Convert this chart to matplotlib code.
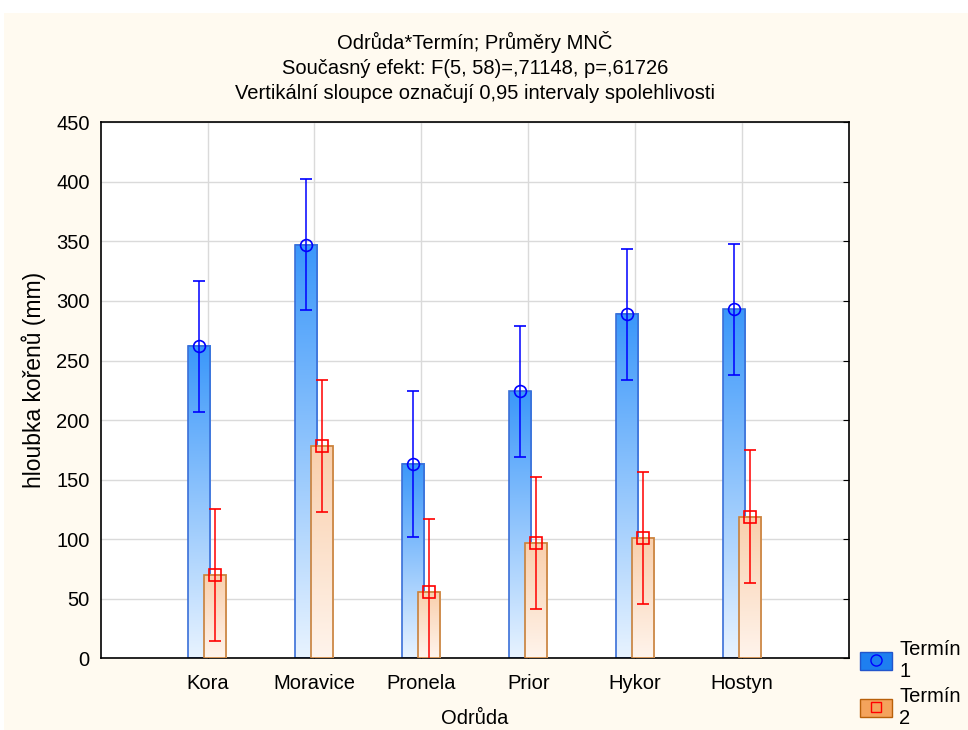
import numpy as np
import matplotlib.pyplot as plt
from matplotlib.colors import LinearSegmentedColormap
from matplotlib.patches import Rectangle, Patch
from matplotlib.lines import Line2D

plt.rcParams['font.family'] = ['Liberation Sans', 'DejaVu Sans']

# Data
odrudy = ['Kora', 'Moravice', 'Pronela', 'Prior', 'Hykor', 'Hostyn']
termin1 = [262, 347, 163, 224, 289, 293]
termin1_ci = [55, 55, 61, 55, 55, 55]
termin2 = [70, 178, 56, 97, 101, 119]
termin2_ci = [55.5, 55.5, 61, 55.5, 55.5, 55.5]

fw, fh = 9.68, 7.30
fs = 14.5
fig = plt.figure(figsize=(fw, fh), dpi=100, facecolor='white')
# cream panel under the white strip at the top
fig.patches.append(Rectangle((0.004, 0), 0.996, 1 - 13 / 730, transform=fig.transFigure,
                             facecolor='#FFFAF0', edgecolor='none', zorder=-10))

ax = fig.add_axes([100.7 / 968, 1 - 658.3 / 730, (849 - 100.7) / 968, (658.3 - 122.3) / 730])
ax.set_facecolor('white')

blue_cmap = LinearSegmentedColormap.from_list('b', ['#E8F3FF', '#3A97FA'])
orange_cmap = LinearSegmentedColormap.from_list('o', ['#FFF4EC', '#F9CFAC'])
grad = np.linspace(0, 1, 256).reshape(-1, 1)

w = 0.206
offs = [-0.078, 0.072]
series = [(termin1, termin1_ci, blue_cmap, '#3A6FD8', 'blue', 'o'),
          (termin2, termin2_ci, orange_cmap, '#C8803A', 'red', 's')]

for k, (vals, ci, cmap, edge, ecol, mk) in enumerate(series):
    for i, v in enumerate(vals):
        xc = i + 1 + offs[k]
        ax.imshow(grad, extent=[xc - w / 2, xc + w / 2, 0, v], origin='lower',
                  aspect='auto', cmap=cmap, zorder=2 + k * 2)
        ax.add_patch(Rectangle((xc - w / 2, 0), w, v, fill=False, edgecolor=edge,
                               linewidth=1.2, zorder=2.5 + k * 2))
    xs = np.arange(1, len(vals) + 1) + offs[k]
    ax.errorbar(xs, vals, yerr=ci, fmt=mk, color=ecol, mfc='none', mec=ecol,
                ms=8.5 if mk == 'o' else 8, mew=1.2, elinewidth=1.1, capsize=4.5,
                capthick=1.1, zorder=3 + k * 2)

ax.set_xlim(0, 7)
ax.set_ylim(0, 450)
ax.set_xticks(range(1, 7))
ax.set_xticklabels(odrudy, fontsize=fs)
ax.set_yticks(range(0, 451, 50))
ax.tick_params(axis='y', labelsize=fs, direction='in', left=False, right=True,
               length=4, pad=8)
ax.tick_params(axis='x', direction='in', length=3, pad=11)
ax.grid(True, color='#DADADA', linewidth=1)
ax.set_axisbelow(True)
for s in ax.spines.values():
    s.set_linewidth(1.2)

ax.set_xlabel('Odrůda', fontsize=fs, labelpad=12)
ax.set_ylabel('hloubka kořenů (mm)', fontsize=16.5)
ax.yaxis.set_label_coords(-0.073, 0.519)
ax.set_title('Odrůda*Termín; Průměry MNČ\nSoučasný efekt: F(5, 58)=,71148, p=,61726\n'
             'Vertikální sloupce označují 0,95 intervaly spolehlivosti',
             fontsize=fs, linespacing=1.38, pad=17)

h1 = (Patch(facecolor='#1E7FF0', edgecolor='#2255CC'),
      Line2D([], [], marker='o', color='blue', mfc='none', ls='none', ms=8))
h2 = (Patch(facecolor='#F4A35C', edgecolor='#B8600A'),
      Line2D([], [], marker='s', color='red', mfc='none', ls='none', ms=7.5))
fig.legend([h1, h2], ['Termín\n1', 'Termín\n2'], loc='lower left',
           bbox_to_anchor=(852 / 968, -0.008), frameon=False, fontsize=fs,
           handlelength=1.6, handleheight=1.0, handletextpad=0.35,
           labelspacing=0.3, borderaxespad=0.0)

plt.savefig('out.png', dpi=100, facecolor=fig.get_facecolor())
